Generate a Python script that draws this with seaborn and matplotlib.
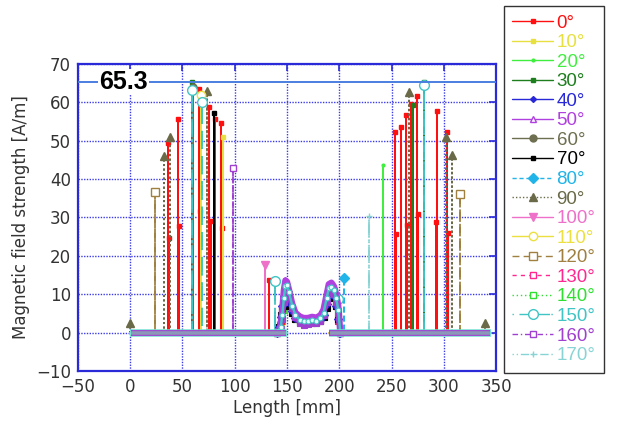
import numpy as np
import pandas as pd
import matplotlib
matplotlib.use("Agg")
import matplotlib.pyplot as plt
from matplotlib.lines import Line2D
import seaborn as sns

# ---------------- data ----------------
angles = ["0°", "10°", "20°", "30°", "40°", "50°", "60°", "70°", "80°", "90°",
          "100°", "110°", "120°", "130°", "140°", "150°", "160°", "170°"]

x_ticks = [-50, 0, 50, 100, 150, 200, 250, 300, 350]
y_ticks = [-10, 0, 10, 20, 30, 40, 50, 60, 70]
max_value = 65.3

base_left = [0, 150]
base_right = [190, 345]
bump_x = [140, 142, 144, 145.5, 147, 148.5, 150, 152, 155, 158, 162, 166, 170, 174, 178,
          182, 185, 188, 190, 192.5, 195, 197, 199, 201]

# spike positions [mm] and peak values [A/m] per angle
s0_x = [36, 37, 45.6, 47, 66, 67, 75.5, 77, 81, 86.7, 87.5, 133,
        253, 254, 259, 263.5, 264.5, 268.6, 274.7, 275.5, 294, 293, 303, 304]
s0_h = [49.4, 24.7, 55.7, 27.7, 63.4, 31.6, 58.7, 29.0, 55.7, 54.6, 27.2, 13.6,
        52.2, 25.8, 53.6, 56.6, 28.0, 59.6, 61.7, 31.0, 57.8, 28.7, 52.4, 26.0]
s10_x = [88.6]
s10_h = [51.0]
s20_x = [241.5]
s20_h = [43.7]
s30_x = [59, 271, 281]
s30_h = [65.3, 59.4, 65.3]
s40_x = []
s40_h = []
s50_x = []
s50_h = []
s60_x = [60.5]
s60_h = [64.0]
s70_x = [80]
s70_h = [57.2]
s80_x = [205]
s80_h = [14.2]
s90_x = [0, 32, 38, 73, 266.7, 302, 307.5, 339]
s90_h = [2.5, 45.9, 50.9, 62.9, 62.8, 50.9, 46.4, 2.5]
s100_x = [129]
s100_h = [17.7]
s110_x = [68]
s110_h = [62.0]
s120_x = [24, 315.5]
s120_h = [36.7, 36.0]
s130_x = []
s130_h = []
s140_x = []
s140_h = []
s150_x = [59, 69, 138.6, 281, 198.5]
s150_h = [63.3, 60.2, 13.4, 64.4, 8.8]
s160_x = [98.8]
s160_h = [43.0]
s170_x = [228.5]
s170_h = [30.3]

# the hump between the two plates
b0 = [0, 1, 3, 6, 9.5, 11, 10.5, 8.5, 6, 4.2, 3.2, 2.8, 2.8, 3, 3, 3.3, 4.5, 7.5, 10, 11, 9.5, 7, 3, 0]
b10 = [0, 0.5, 2, 5, 9, 11.5, 11, 9, 6.2, 4.2, 3.2, 2.8, 2.8, 3, 3, 3.4, 4.8, 8, 10.5, 12.5, 11, 8, 4, 0]
b20 = [0, 1, 3.5, 7, 10.5, 12, 11.5, 9.5, 6.5, 4.4, 3.3, 2.9, 2.9, 3.1, 3.1, 3.5, 5, 8.5, 11, 12, 10.5, 8, 4.5, 0]
b40 = [0, 1.5, 4, 7, 9.5, 10.5, 10, 8, 5.5, 3.8, 3, 2.6, 2.6, 2.8, 2.8, 3.2, 4.5, 7.5, 9.5, 10.5, 9.5, 7, 3.5, 0]
b50 = [0, 0.5, 2, 6, 11, 13.6, 13.2, 11, 7.5, 5.2, 4.2, 3.8, 3.8, 4.1, 3.9, 4.5, 6, 10, 12.6, 13, 12, 10, 7, 0]
b60 = [0, 0.5, 1.5, 4, 7.5, 10, 11, 9, 6, 4, 3, 2.7, 2.8, 3, 3, 3.5, 5, 8, 10, 11, 9.5, 7, 4, 0]
b70 = [0, 1.5, 4.5, 6.5, 8, 9, 8.5, 7, 5, 3.6, 2.8, 2.5, 2.5, 2.7, 2.7, 3, 4, 6.5, 9, 12, 10, 7, 3.5, 0]
b140 = [0, 0.3, 1, 3, 6, 9, 10, 8, 5, 3.5, 2.6, 2.2, 2.4, 2.6, 2.5, 3, 4, 7, 9, 10, 9.2, 7.5, 5, 0]
b150 = [0, 0.5, 1.5, 4.5, 9, 12.2, 12.4, 10.5, 7, 4.7, 3.4, 2.9, 3, 3.3, 3.1, 3.7, 5.2, 9, 11.6, 12, 11, 9, 6, 0]
b160 = [0, 0.3, 1, 3.5, 8, 11.5, 11.8, 10, 6.5, 4, 2.6, 2.1, 2.3, 2.6, 2.4, 3, 4.5, 8, 10.6, 11.2, 10, 8, 5, 0]

# ---------------- styles ----------------
colors = ["#ff1010", "#e6e040", "#40ee40", "#1e7e1e", "#2828d8", "#b040e0",
          "#6e6e50", "#000000", "#20b4e8", "#6a6a48", "#ee70c8", "#ece040",
          "#a08040", "#ff2890", "#30e030", "#40c4c4", "#a040d0", "#88d4d4"]
styles = ["-", "-", "-", "-", "-", "-", "-", "-", (0, (3, 2)), (0, (1, 1.5)),
          "-", "-", (0, (5, 3)), (0, (3, 3)), (0, (1, 2)), (0, (1, 4, 8, 1)),
          (0, (4, 2, 1, 2)), (0, (1, 2, 1, 2, 6, 2))]
markers = ["s", "s", ".", "s", "D", "^", "o", "s", "D", "^",
           "v", "o", "s", "s", "s", "o", "s", "+"]
filled = [True, True, True, True, True, False, True, True, True, True,
          True, False, False, False, False, False, False, True]
msizes = [3, 3, 4, 3, 3, 5, 5, 3, 5, 6, 6, 6, 6, 5, 5, 7, 4, 5]

spike_x = [s0_x, s10_x, s20_x, s30_x, s40_x, s50_x, s60_x, s70_x, s80_x, s90_x,
           s100_x, s110_x, s120_x, s130_x, s140_x, s150_x, s160_x, s170_x]
spike_h = [s0_h, s10_h, s20_h, s30_h, s40_h, s50_h, s60_h, s70_h, s80_h, s90_h,
           s100_h, s110_h, s120_h, s130_h, s140_h, s150_h, s160_h, s170_h]
bumps = [b0, b10, b20, None, b40, b50, b60, b70, None, None,
         None, None, None, None, b140, b150, b160, None]
# drawing order of the hump curves (inner colours first, purple outline, cyan core last)
bump_order = [14, 2, 1, 0, 6, 7, 4, 5, 16, 15]


def spike_paths(xs, hs, has_bump):
    """Two sub-paths along the plates with vertical spikes; returns (x, y, marker idx)."""
    left_end = bump_x[0] if has_bump else base_left[1]
    right_start = bump_x[-1] if has_bump else base_right[0]
    mid = (left_end + right_start) / 2
    pairs = sorted(zip(xs, hs), key=lambda p: p[0])
    out = []
    for lo, hi, sel in ((base_left[0], left_end, lambda v: v < mid),
                        (right_start, base_right[1], lambda v: v >= mid)):
        px, py, mk = [lo], [0], []
        for x, h in pairs:
            if sel(x):
                px += [x, x, x]
                py += [0, h, 0]
                mk.append(len(px) - 2)
        px.append(hi)
        py.append(0)
        out.append((px, py, mk))
    return out


# ---------------- plotting ----------------
sns.set_style("white")
plt.rcParams["font.family"] = ["DejaVu Sans"]

fig = plt.figure(figsize=(6.18, 4.25), dpi=100)
ax = fig.add_axes([0.1262, 0.1271, 0.6764, 0.7224])

blue = "#2a2ad8"
ax.set_xlim(x_ticks[0], x_ticks[-1])
ax.set_ylim(y_ticks[0], y_ticks[-1])
ax.set_xticks(x_ticks)
ax.set_yticks(y_ticks)
ax.grid(True, color="#3c3ce6", linestyle=(0, (1, 1)), linewidth=1.0)
ax.set_axisbelow(True)
for sp in ax.spines.values():
    sp.set_color(blue)
    sp.set_linewidth(1.6)
ax.tick_params(direction="in", length=5, width=1.2, color=blue, top=True, right=True,
               labelsize=12, labelcolor="#333333", pad=5)

handles = []
for i, ang in enumerate(angles):
    c = colors[i]
    mfc = c if filled[i] else "white"
    for px, py, mk in spike_paths(spike_x[i], spike_h[i], bumps[i] is not None):
        df = pd.DataFrame({"x": px, "y": py})
        sns.lineplot(data=df, x="x", y="y", ax=ax, sort=False, estimator=None,
                     color=c, linestyle=styles[i], linewidth=1.3,
                     marker=markers[i], markevery=mk, markersize=msizes[i],
                     markerfacecolor=mfc, markeredgecolor=c, markeredgewidth=1.0,
                     legend=False, zorder=2)
    handles.append(Line2D([], [], color=c, linestyle=styles[i], linewidth=1.0,
                          marker=markers[i], markersize=msizes[i],
                          markerfacecolor=mfc, markeredgecolor=c, markeredgewidth=1.0))

# hump between the plates (dense, thick)
for i in bump_order:
    c = colors[i]
    dfb = pd.DataFrame({"x": bump_x, "y": bumps[i]})
    if i == 5:
        lw, ms, mfc = 4.6, 4, c
    elif i == 16:
        lw, ms, mfc = 3.4, 4, c
    elif i == 15:
        lw, ms, mfc = 1.8, 3.5, "#e8ffff"
    else:
        lw, ms, mfc = 2.6, 4, c
    sns.lineplot(data=dfb, x="x", y="y", ax=ax, sort=False, estimator=None,
                 color=c, linestyle="-", linewidth=lw,
                 marker=markers[i], markersize=ms, markerfacecolor=mfc,
                 markeredgecolor=c, markeredgewidth=0.8, legend=False, zorder=2.5)

# plates drawn as a thick band at zero
for lo, hi in (base_left, base_right):
    ax.plot([lo, hi], [0, 0], color="#70e0d0", linewidth=5.4, solid_capstyle="butt", zorder=3)
    ax.plot([lo + 0.5, hi - 0.5], [0, 0], color="#a040d0", linewidth=4.2, solid_capstyle="butt", zorder=3)
    ax.plot([lo + 1.2, hi - 1.2], [0, 0], color="#8c98b8", linewidth=2.6, solid_capstyle="butt", zorder=3)

# maximum marker line
ax.axhline(max_value, color="#4a7ee0", linewidth=1.4, zorder=4)
ax.text(-6.4, max_value, f"{max_value:.1f}", ha="center", va="center",
        fontsize=18, fontweight="bold", family="Liberation Sans", color="black",
        bbox=dict(facecolor="white", edgecolor="none", pad=0.5), zorder=6)

ax.set_xlabel("Length [mm]", fontsize=12, color="#333333", labelpad=2)
ax.set_ylabel("Magnetic field strength [A/m]", fontsize=12, color="#333333", labelpad=4)

leg = fig.legend(handles, angles, loc="upper left", bbox_to_anchor=(504 / 618, 1 - 6 / 425),
                 frameon=True, fancybox=False, edgecolor="#333333", framealpha=1,
                 prop={"family": "Liberation Sans", "size": 13.5},
                 handlelength=2.15, handletextpad=0.2, labelspacing=0.13,
                 borderpad=0.45, borderaxespad=0, numpoints=1, labelcolor="linecolor")
leg.get_frame().set_linewidth(1.0)

fig.savefig("out.png", dpi=100)
